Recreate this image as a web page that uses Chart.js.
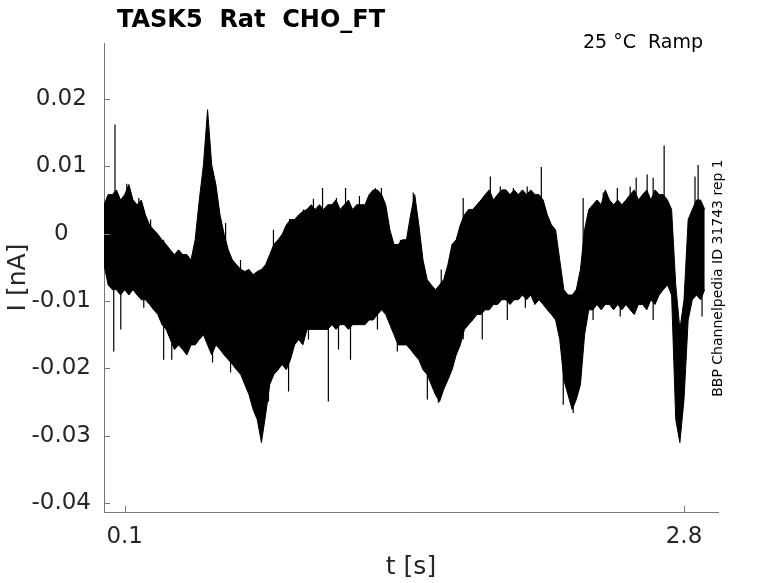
<!DOCTYPE html>
<html>
<head>
<meta charset="utf-8">
<script src="https://cdn.jsdelivr.net/npm/chart.js@4.4.0/dist/chart.umd.min.js"></script>
<style>
  html, body { margin: 0; padding: 0; background: #fff; }
  #wrap { width: 778px; height: 583px; }
</style>
</head>
<body>
<div id="wrap"><canvas id="trace" width="778" height="583"></canvas></div>
<script>
// sampling of the trace, seconds
const tStart = 0.0;
const tStep = 0.02;

// upper edge of the dense current band (nA)
const upper = [
  0.0043, 0.0058, 0.0058, 0.0065, 0.0050, 0.0058, 0.0073, 0.0050, 0.0043, 0.0050,
  0.0028, 0.0013, 0.0006, -0.0001, -0.0009, -0.0016, -0.0024, -0.0031, -0.0024, -0.0031,
  -0.0031, -0.0039, -0.0009, 0.0050, 0.0102, 0.0184, 0.0102, 0.0073, 0.0028, -0.0001,
  -0.0024, -0.0039, -0.0046, -0.0053, -0.0056, -0.0053, -0.0061, -0.0056, -0.0053, -0.0046,
  -0.0031, -0.0016, -0.0009, -0.0001, 0.0013, 0.0021, 0.0021, 0.0028, 0.0033, 0.0036,
  0.0043, 0.0036, 0.0043, 0.0036, 0.0043, 0.0043, 0.0050, 0.0036, 0.0043, 0.0050,
  0.0036, 0.0043, 0.0043, 0.0043, 0.0058, 0.0065, 0.0065, 0.0058, 0.0043, 0.0006,
  -0.0016, -0.0016, -0.0009, -0.0009, 0.0028, 0.0058, 0.0013, -0.0039, -0.0068, -0.0076,
  -0.0083, -0.0076, -0.0068, -0.0046, -0.0016, -0.0009, 0.0013, 0.0028, 0.0036, 0.0036,
  0.0043, 0.0050, 0.0058, 0.0065, 0.0050, 0.0058, 0.0065, 0.0065, 0.0058, 0.0065,
  0.0058, 0.0065, 0.0058, 0.0065, 0.0058, 0.0058, 0.0050, 0.0028, 0.0013, 0.0006,
  -0.0039, -0.0083, -0.0091, -0.0091, -0.0083, -0.0053, 0.0006, 0.0036, 0.0043, 0.0050,
  0.0043, 0.0065, 0.0050, 0.0043, 0.0050, 0.0043, 0.0050, 0.0058, 0.0065, 0.0050,
  0.0058, 0.0065, 0.0050, 0.0065, 0.0058, 0.0058, 0.0050, 0.0036, -0.0076, -0.0142,
  -0.0098, 0.0021, 0.0036, 0.0050, 0.0050, 0.0036
];

// lower edge of the dense band (nA)
const lower = [
  -0.0046, -0.0076, -0.0083, -0.0083, -0.0091, -0.0083, -0.0091, -0.0083, -0.0091, -0.0098,
  -0.0098, -0.0105, -0.0113, -0.0120, -0.0135, -0.0142, -0.0157, -0.0172, -0.0165, -0.0172,
  -0.0180, -0.0165, -0.0165, -0.0157, -0.0150, -0.0165, -0.0180, -0.0165, -0.0172, -0.0180,
  -0.0187, -0.0194, -0.0202, -0.0209, -0.0224, -0.0239, -0.0261, -0.0276, -0.0310, -0.0269,
  -0.0224, -0.0209, -0.0202, -0.0194, -0.0202, -0.0187, -0.0165, -0.0157, -0.0165, -0.0142,
  -0.0142, -0.0142, -0.0142, -0.0142, -0.0142, -0.0135, -0.0142, -0.0135, -0.0135, -0.0142,
  -0.0135, -0.0135, -0.0135, -0.0135, -0.0128, -0.0128, -0.0120, -0.0113, -0.0120, -0.0135,
  -0.0150, -0.0165, -0.0165, -0.0165, -0.0172, -0.0180, -0.0187, -0.0202, -0.0209, -0.0224,
  -0.0239, -0.0249, -0.0231, -0.0217, -0.0202, -0.0180, -0.0165, -0.0142, -0.0135, -0.0128,
  -0.0120, -0.0120, -0.0113, -0.0113, -0.0105, -0.0105, -0.0098, -0.0098, -0.0105, -0.0098,
  -0.0098, -0.0091, -0.0098, -0.0091, -0.0105, -0.0098, -0.0105, -0.0113, -0.0120, -0.0128,
  -0.0157, -0.0217, -0.0239, -0.0261, -0.0246, -0.0224, -0.0150, -0.0113, -0.0113, -0.0105,
  -0.0113, -0.0105, -0.0105, -0.0113, -0.0105, -0.0113, -0.0105, -0.0113, -0.0120, -0.0105,
  -0.0105, -0.0113, -0.0098, -0.0105, -0.0091, -0.0083, -0.0076, -0.0091, -0.0276, -0.0310,
  -0.0246, -0.0128, -0.0098, -0.0091, -0.0098, -0.0083
];

// single noise spikes poking out of the band: times (s) and tips (nA)
const spikeUpT = [
  0.053, 0.110, 0.168, 0.225, 0.288, 0.587, 0.659, 0.818, 0.896, 0.963,
  1.011, 1.055, 1.122, 1.166, 1.233, 1.310, 1.339, 1.431, 1.493, 1.628,
  1.734, 1.865, 1.913, 1.976, 2.043, 2.111, 2.313, 2.410, 2.478, 2.540,
  2.569, 2.622, 2.651, 2.704, 2.853, 2.868
];
const spikeUpV = [
  0.0162, 0.0074, 0.0053, 0.0021, -0.0009, 0.0016, -0.0039, 0.0006, 0.0022, 0.0036,
  0.0052, 0.0068, 0.0053, 0.0068, 0.0056, 0.0068, 0.0068, -0.0009, 0.0061, -0.0053,
  0.0053, 0.0085, 0.0070, 0.0068, 0.0070, 0.0099, 0.0053, 0.0061, 0.0068, 0.0070,
  0.0083, 0.0088, 0.0083, 0.0131, 0.0085, 0.0102
];
const spikeDownT = [
  0.047, 0.081, 0.192, 0.288, 0.327, 0.524, 0.611, 0.794, 0.891, 0.987,
  1.083, 1.132, 1.190, 1.320, 1.416, 1.561, 1.614, 1.734, 1.826, 1.947,
  2.034, 2.217, 2.265, 2.361, 2.492, 2.651, 2.887
];
const spikeDownV = [
  -0.0175, -0.0142, -0.0110, -0.0187, -0.0187, -0.0191, -0.0206, -0.0249, -0.0234, -0.0157,
  -0.0249, -0.0172, -0.0187, -0.0142, -0.0175, -0.0246, -0.0251, -0.0157, -0.0157, -0.0128,
  -0.0110, -0.0254, -0.0266, -0.0128, -0.0123, -0.0128, -0.0123
];

const yTicks = [0.02, 0.01, 0, -0.01, -0.02, -0.03, -0.04];
const xTicks = [0.1, 2.8];

const titleText = 'TASK5  Rat  CHO_FT';
const condText = '25 \u00B0C  Ramp';
const sideText = 'BBP Channelpedia ID 31743 rep 1';

const inkColor = '#262626';
const axisColor = '#777777';

// build point lists for the library
const topPts = upper.map((v, i) => ({ x: tStart + i * tStep, y: v }));
const botPts = lower.map((v, i) => ({ x: tStart + i * tStep, y: v }));

// every spike is a short vertical stroke from the band middle to its tip
function spikePts(times, tips) {
  const pts = [];
  times.forEach((t, i) => {
    const k = Math.min(upper.length - 1, Math.round((t - tStart) / tStep));
    pts.push({ x: t, y: (upper[k] + lower[k]) / 2 });
    pts.push({ x: t, y: tips[i] });
    pts.push({ x: t, y: null });
  });
  return pts;
}

// inward tick marks and the extra labels
const extras = {
  id: 'extras',
  afterDraw(chart) {
    const { ctx, chartArea: a, scales: { x, y } } = chart;
    ctx.save();
    ctx.strokeStyle = axisColor;
    ctx.lineWidth = 1;
    ctx.beginPath();
    yTicks.forEach(v => {
      const py = Math.round(y.getPixelForValue(v)) + 0.5;
      ctx.moveTo(a.left, py);
      ctx.lineTo(a.left + 6, py);
    });
    xTicks.forEach(v => {
      const px = Math.round(x.getPixelForValue(v)) + 0.5;
      ctx.moveTo(px, a.bottom);
      ctx.lineTo(px, a.bottom - 6);
    });
    ctx.stroke();

    ctx.fillStyle = '#000';
    ctx.textBaseline = 'alphabetic';
    ctx.textAlign = 'left';
    ctx.font = 'bold 24px "DejaVu Sans"';
    ctx.fillText(titleText, 117, 27);

    ctx.textAlign = 'right';
    ctx.font = '19px "DejaVu Sans"';
    ctx.fillText(condText, 703, 48);

    ctx.translate(722, 278);
    ctx.rotate(-Math.PI / 2);
    ctx.textAlign = 'center';
    ctx.font = '14px "DejaVu Sans"';
    ctx.fillText(sideText, 0, 0);
    ctx.restore();
  }
};

new Chart(document.getElementById('trace'), {
  type: 'line',
  data: {
    datasets: [
      {
        data: topPts,
        borderColor: '#000',
        borderWidth: 1,
        backgroundColor: '#000',
        pointRadius: 0,
        tension: 0,
        fill: '+1'
      },
      {
        data: botPts,
        borderColor: '#000',
        borderWidth: 1,
        pointRadius: 0,
        tension: 0,
        fill: false
      },
      {
        data: spikePts(spikeUpT, spikeUpV),
        borderColor: '#000',
        borderWidth: 1.2,
        pointRadius: 0,
        spanGaps: false,
        fill: false
      },
      {
        data: spikePts(spikeDownT, spikeDownV),
        borderColor: '#000',
        borderWidth: 1.2,
        pointRadius: 0,
        spanGaps: false,
        fill: false
      }
    ]
  },
  options: {
    responsive: false,
    animation: false,
    devicePixelRatio: 1,
    layout: { padding: { top: 43, right: 60, left: 0, bottom: 0 } },
    plugins: {
      legend: { display: false },
      tooltip: { enabled: false }
    },
    scales: {
      x: {
        type: 'linear',
        min: 0,
        max: 2.964,
        afterBuildTicks: s => { s.ticks = xTicks.map(v => ({ value: v })); },
        afterFit: s => { s.height = 71; },
        grid: { display: false },
        border: { display: true, color: axisColor, width: 1 },
        ticks: {
          color: inkColor,
          font: { family: 'DejaVu Sans', size: 23 },
          padding: 3,
          maxRotation: 0,
          autoSkip: false,
          callback: v => String(v)
        },
        title: {
          display: true,
          text: 't [s]',
          color: inkColor,
          font: { family: 'DejaVu Sans', size: 25 },
          padding: { top: 0, bottom: 1 }
        }
      },
      y: {
        type: 'linear',
        min: -0.0413,
        max: 0.0283,
        afterBuildTicks: s => { s.ticks = yTicks.map(v => ({ value: v })); },
        afterFit: s => { s.width = 104; },
        grid: { display: false },
        border: { display: true, color: axisColor, width: 1 },
        ticks: {
          color: inkColor,
          font: { family: 'DejaVu Sans', size: 23 },
          padding: 5,
          crossAlign: 'center',
          autoSkip: false,
          callback: v => String(v)
        },
        title: {
          display: true,
          text: 'I [nA]',
          color: inkColor,
          font: { family: 'DejaVu Sans', size: 25 },
          padding: { top: 3, bottom: 0 }
        }
      }
    }
  },
  plugins: [extras]
});
</script>
</body>
</html>
